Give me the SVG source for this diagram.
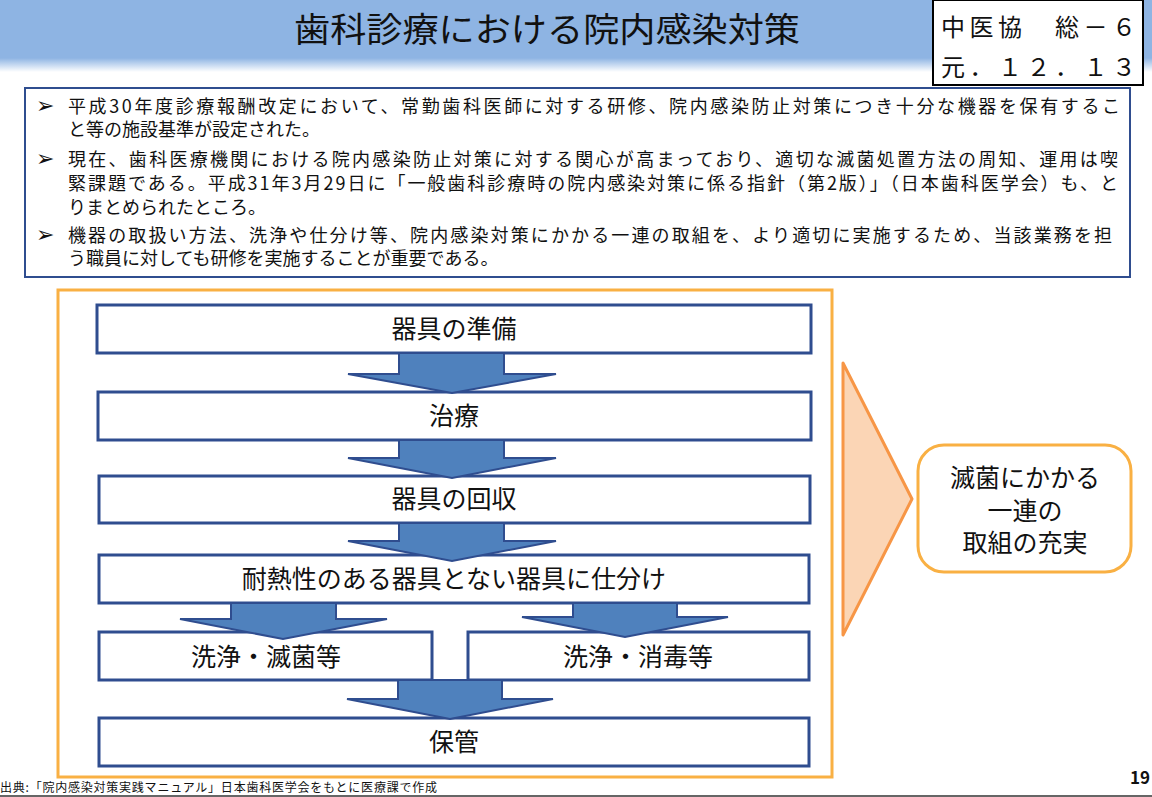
<svg xmlns="http://www.w3.org/2000/svg" width="1152" height="797" viewBox="0 0 1152 797">
<style>
text{font-family:"Noto Sans CJK JP","Noto Sans",sans-serif;fill:#111}
.b{font-size:18px}
.bl{font-size:22px;font-family:"DejaVu Sans",sans-serif}
.f{font-size:25px;text-anchor:middle}
.box{fill:#fff;stroke:#2F4D8F;stroke-width:3}
.arr{fill:#4F81BD;stroke:#2F4D8F;stroke-width:2;stroke-linejoin:miter}
</style>
<defs>
<linearGradient id="shade" x1="0" y1="0" x2="0" y2="1">
<stop offset="0" stop-color="#8EB4E3"/>
<stop offset="1" stop-color="#FFFFFF"/>
</linearGradient>
</defs>
<rect width="1152" height="797" fill="#fff"/>
<g id="title">
<rect x="0" y="0" width="1152" height="58" fill="#8EB4E3"/>
<rect x="0" y="58" width="1152" height="14" fill="url(#shade)"/>
<text x="294" y="42" font-size="34" textLength="506" lengthAdjust="spacingAndGlyphs" fill="#262626">歯科診療における院内感染対策</text>
</g>
<g id="meeting-box">
<rect x="933" y="0" width="210" height="85" fill="#fff" stroke="#000" stroke-width="2"/>
<text x="941" y="36" font-size="24" textLength="195" lengthAdjust="spacing">中医協　総－６</text>
<text x="941" y="76" font-size="24" textLength="195" lengthAdjust="spacing">元．１２．１３</text>
</g>
<g id="summary">
<rect x="25" y="88" width="1105" height="189" fill="#fff" stroke="#2F4D8F" stroke-width="2"/>
<text class="bl" x="36" y="113">➢</text>
<text class="bl" x="36" y="166">➢</text>
<text class="bl" x="36" y="242">➢</text>
<text class="b" x="68" y="113" textLength="1052" lengthAdjust="spacing">平成30年度診療報酬改定において、常勤歯科医師に対する研修、院内感染防止対策につき十分な機器を保有するこ</text>
<text class="b" x="68" y="136">と等の施設基準が設定された。</text>
<text class="b" x="68" y="166" textLength="1050" lengthAdjust="spacing">現在、歯科医療機関における院内感染防止対策に対する関心が高まっており、適切な滅菌処置方法の周知、運用は喫</text>
<text class="b" x="68" y="190" textLength="1050" lengthAdjust="spacing">緊課題である。平成31年3月29日に「一般歯科診療時の院内感染対策に係る指針（第2版）」（日本歯科医学会）も、と</text>
<text class="b" x="68" y="214">りまとめられたところ。</text>
<text class="b" x="68" y="242" textLength="1044" lengthAdjust="spacing">機器の取扱い方法、洗浄や仕分け等、院内感染対策にかかる一連の取組を、より適切に実施するため、当該業務を担</text>
<text class="b" x="68" y="265">う職員に対しても研修を実施することが重要である。</text>
</g>
<g id="flow-frame">
<rect x="58" y="290" width="774" height="487" fill="none" stroke="#F9B043" stroke-width="3"/>
</g>
<g id="n1"><rect class="box" x="97" y="305" width="714" height="48"/><text class="f" x="454" y="338">器具の準備</text></g>
<g id="n2"><rect class="box" x="98" y="392" width="713" height="48"/><text class="f" x="454" y="425">治療</text></g>
<g id="n3"><rect class="box" x="99" y="476" width="711" height="47"/><text class="f" x="454" y="508">器具の回収</text></g>
<g id="n4"><rect class="box" x="99" y="555" width="710" height="48"/><text class="f" x="454" y="588">耐熱性のある器具とない器具に仕分け</text></g>
<g id="n5a"><rect class="box" x="99" y="632" width="333" height="48"/><text class="f" x="266" y="666">洗浄・滅菌等</text></g>
<g id="n5b"><rect class="box" x="468" y="632" width="341" height="48"/><text class="f" x="638" y="666">洗浄・消毒等</text></g>
<g id="n6"><rect class="box" x="99" y="718" width="710" height="48"/><text class="f" x="454" y="751">保管</text></g>
<g id="connectors">
<polygon class="arr" points="399,353 504,353 504,374 556,374 452,393 348,374 399,374"/>
<polygon class="arr" points="399,440 504,440 504,458 556,458 452,478 348,458 399,458"/>
<polygon class="arr" points="399,523 504,523 504,541 556,541 452,561 348,541 399,541"/>
<polygon class="arr" points="231,603 336,603 336,619 387,619 283,639 180,619 231,619"/>
<polygon class="arr" points="573,603 677,603 677,617 728,617 625,637 522,617 573,617"/>
<polygon class="arr" points="398,680 502,680 502,699 553,699 450,719 347,699 398,699"/>
</g>
<g id="big-arrow">
<polygon points="843,363 912,499 843,635" fill="#FBD5B5" stroke="#F79646" stroke-width="3" stroke-linejoin="round"/>
</g>
<g id="result">
<rect x="918" y="445" width="213" height="127" rx="26" fill="#fff" stroke="#F9B043" stroke-width="3"/>
<text class="f" x="1025" y="487">滅菌にかかる</text>
<text class="f" x="1025" y="520">一連の</text>
<text class="f" x="1025" y="552">取組の充実</text>
</g>
<g id="footer">
<text x="0" y="792" font-size="12" textLength="437" lengthAdjust="spacing">出典:「院内感染対策実践マニュアル」日本歯科医学会をもとに医療課で作成</text>
<line x1="0" y1="796" x2="1152" y2="796" stroke="#333" stroke-width="1.5"/>
<text x="1150" y="784" font-size="17" font-weight="bold" text-anchor="end" font-family="Liberation Sans,sans-serif">19</text>
</g>
</svg>
